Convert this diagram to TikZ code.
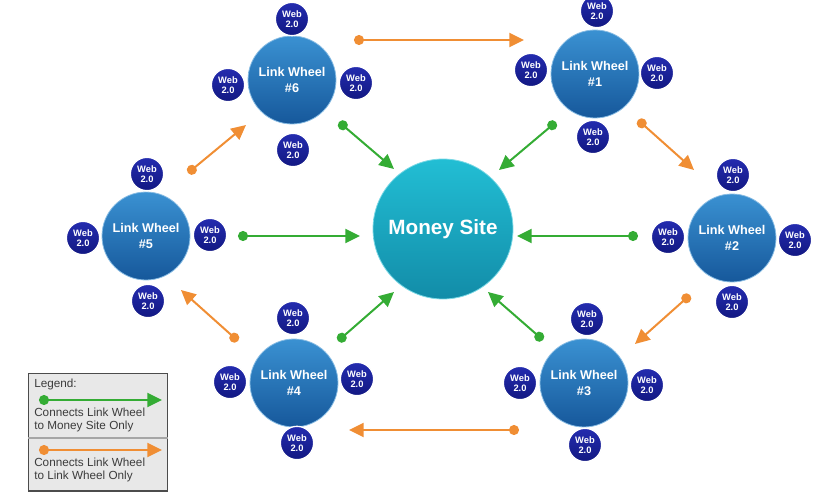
\documentclass[tikz,border=0pt]{standalone}
\usepackage{fontspec}
\setmainfont{Liberation Sans}
\usetikzlibrary{arrows.meta}
\definecolor{lwtop}{RGB}{58,145,210}
\definecolor{lwbot}{RGB}{22,88,155}
\definecolor{webtop}{RGB}{36,44,175}
\definecolor{webbot}{RGB}{18,24,130}
\definecolor{mstop}{RGB}{34,190,212}
\definecolor{msbot}{RGB}{18,140,168}
\definecolor{orangeA}{RGB}{240,142,52}
\definecolor{greenA}{RGB}{52,172,52}
\definecolor{legfill}{RGB}{232,232,232}
\definecolor{legtext}{RGB}{60,60,60}
\begin{document}
\begin{tikzpicture}[x=0.75pt,y=-0.75pt,
  wheel/.style={circle,minimum size=66pt,inner sep=0pt,top color=lwtop,bottom color=lwbot,
    draw=lwtop!60!white,line width=0.6pt,text=white,font=\bfseries\fontsize{9.5}{11.5}\selectfont,align=center},
  web/.style={circle,minimum size=25pt,inner sep=0pt,top color=webtop,bottom color=webbot,draw=white,line width=1pt,
    text=white,font=\bfseries\fontsize{7}{7.8}\selectfont,align=center},
  money/.style={circle,minimum size=105pt,inner sep=0pt,top color=mstop,bottom color=msbot,
    draw=mstop!60!white,line width=0.6pt,text=white,font=\bfseries\fontsize{15.5}{17}\selectfont},
  garrow/.style={draw=greenA,line width=1.5pt,{Circle[length=7.5pt,fill=greenA]}-{Triangle[length=11pt,width=10.5pt]},fill=greenA},
  oarrow/.style={draw=orangeA,line width=1.5pt,{Circle[length=7.5pt,fill=orangeA]}-{Triangle[length=11pt,width=10.5pt]},fill=orangeA},
  legtxt/.style={anchor=west,inner sep=0pt,text=legtext,font=\fontsize{8.8}{10.3}\selectfont,align=left}
]
\useasboundingbox (0,0) rectangle (840,497);

% Money site
\node[money] (ms) at (443,229) {Money Site};

% Link wheels
\node[wheel] (lw1) at (595,74) {Link Wheel\\\#1};
\node[wheel] (lw2) at (732,238) {Link Wheel\\\#2};
\node[wheel] (lw3) at (584,383) {Link Wheel\\\#3};
\node[wheel] (lw4) at (294,383) {Link Wheel\\\#4};
\node[wheel] (lw5) at (146,236) {Link Wheel\\\#5};
\node[wheel] (lw6) at (292,80) {Link Wheel\\\#6};

% Web 2.0 satellites
\node[web] (w1t) at (597,11) {Web\\2.0};
\node[web] (w1l) at (531,70) {Web\\2.0};
\node[web] (w1r) at (657,73) {Web\\2.0};
\node[web] (w1b) at (593,137) {Web\\2.0};

\node[web] (w2t) at (733,175) {Web\\2.0};
\node[web] (w2l) at (668,237) {Web\\2.0};
\node[web] (w2r) at (795,240) {Web\\2.0};
\node[web] (w2b) at (732,302) {Web\\2.0};

\node[web] (w3t) at (587,319) {Web\\2.0};
\node[web] (w3l) at (520,383) {Web\\2.0};
\node[web] (w3r) at (647,385) {Web\\2.0};
\node[web] (w3b) at (585,445) {Web\\2.0};

\node[web] (w4t) at (293,318) {Web\\2.0};
\node[web] (w4l) at (230,382) {Web\\2.0};
\node[web] (w4r) at (357,379) {Web\\2.0};
\node[web] (w4b) at (297,443) {Web\\2.0};

\node[web] (w5t) at (147,174) {Web\\2.0};
\node[web] (w5l) at (83,238) {Web\\2.0};
\node[web] (w5r) at (210,235) {Web\\2.0};
\node[web] (w5b) at (148,301) {Web\\2.0};

\node[web] (w6t) at (292,19) {Web\\2.0};
\node[web] (w6l) at (228,85) {Web\\2.0};
\node[web] (w6r) at (356,83) {Web\\2.0};
\node[web] (w6b) at (293,150) {Web\\2.0};

% arrow end coordinates
\coordinate (o61s) at (354,40);  \coordinate (o61e) at (524,40);
\coordinate (o12s) at (638,120); \coordinate (o12e) at (694,170);
\coordinate (o23s) at (690,295); \coordinate (o23e) at (635,344);
\coordinate (o34s) at (519,430); \coordinate (o34e) at (349,430);
\coordinate (o45s) at (238,341); \coordinate (o45e) at (181,290);
\coordinate (o56s) at (188,173); \coordinate (o56e) at (246,125);

\coordinate (g6s) at (339,122); \coordinate (g6e) at (394,169);
\coordinate (g1s) at (556,122); \coordinate (g1e) at (499,170);
\coordinate (g2s) at (638,236); \coordinate (g2e) at (517,236);
\coordinate (g3s) at (543,340); \coordinate (g3e) at (488,292);
\coordinate (g4s) at (338,341); \coordinate (g4e) at (394,292);
\coordinate (g5s) at (238,236); \coordinate (g5e) at (360,236);

\draw[oarrow] (o61s) -- (o61e);
\draw[oarrow] (o12s) -- (o12e);
\draw[oarrow] (o23s) -- (o23e);
\draw[oarrow] (o34s) -- (o34e);
\draw[oarrow] (o45s) -- (o45e);
\draw[oarrow] (o56s) -- (o56e);

\draw[garrow] (g6s) -- (g6e);
\draw[garrow] (g1s) -- (g1e);
\draw[garrow] (g2s) -- (g2e);
\draw[garrow] (g3s) -- (g3e);
\draw[garrow] (g4s) -- (g4e);
\draw[garrow] (g5s) -- (g5e);

% Legend
\node[draw=black!70,fill=legfill,line width=1pt,minimum width=104pt,minimum height=88pt,inner sep=0pt,anchor=north west] (legend) at (28,373) {};
\node[legtxt] (legtitle) at (34,384) {Legend:};
\coordinate (lg1s) at (39,400); \coordinate (lg1e) at (162,400);
\draw[garrow] (lg1s) -- (lg1e);
\node[legtxt] (leg1) at (34,420) {Connects Link Wheel\\to Money Site Only};
\draw[black!35,line width=0.8pt] (legend.west |- 0,438) -- (legend.east |- 0,438);
\coordinate (lg2s) at (39,450); \coordinate (lg2e) at (162,450);
\draw[oarrow] (lg2s) -- (lg2e);
\node[legtxt] (leg2) at (34,470) {Connects Link Wheel\\to Link Wheel Only};
\end{tikzpicture}
\end{document}
